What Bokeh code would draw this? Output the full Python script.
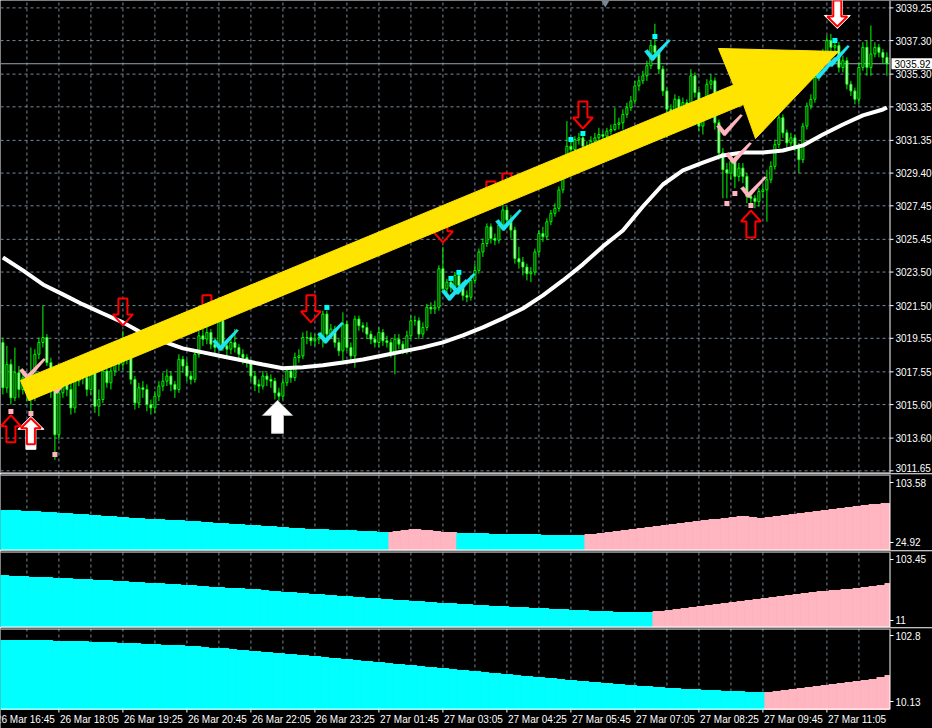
from bokeh.plotting import figure
from bokeh.layouts import column
from bokeh.models import Range1d
from bokeh.core.properties import value
from bokeh.embed import file_html
from bokeh.resources import INLINE

# ------------------------------------------------------------------ data
first_open = 3019.3
closes = [
    3016.6, 3018.0, 3016.0, 3017.5, 3016.5, 3017.2, 3016.5, 3016.0, 3018.6, 3019.3,
    3019.6, 3018.1, 3016.5, 3013.8, 3016.3, 3017.0, 3016.5, 3015.4, 3017.0, 3017.4,
    3017.2, 3016.5, 3017.6, 3015.5, 3015.9, 3017.6, 3016.9, 3017.6, 3018.4, 3018.0,
    3018.3, 3018.5, 3017.1, 3015.7, 3016.6, 3016.5, 3015.6, 3015.4, 3016.1, 3016.7,
    3017.0, 3017.3, 3016.8, 3016.5, 3018.3, 3017.9, 3017.3, 3017.1, 3018.6, 3019.7,
    3019.5, 3019.9, 3019.2, 3019.0, 3020.6, 3019.1, 3018.9, 3019.3, 3019.0, 3018.6,
    3018.4, 3018.1, 3017.3, 3016.8, 3016.7, 3017.3, 3017.1, 3017.0, 3016.3, 3016.1,
    3016.9, 3017.6, 3017.2, 3018.4, 3018.5, 3019.6, 3019.6, 3019.4, 3019.5, 3019.6,
    3021.0, 3019.8, 3020.1, 3019.3, 3018.8, 3020.4, 3019.0, 3018.5, 3020.7, 3020.3,
    3020.2, 3019.8, 3019.5, 3019.3, 3019.9, 3019.4, 3019.3, 3018.7, 3019.5, 3019.2,
    3018.9, 3019.7, 3020.6, 3020.6, 3019.8, 3020.2, 3021.4, 3021.3, 3021.4, 3023.7,
    3022.5, 3022.9, 3022.6, 3023.3, 3022.7, 3022.1, 3022.0, 3023.0, 3023.6, 3024.7,
    3025.2, 3026.2, 3025.5, 3025.4, 3026.3, 3027.2, 3026.6, 3026.0, 3024.3, 3024.1,
    3023.8, 3023.4, 3023.5, 3024.7, 3025.8, 3025.6, 3026.5, 3027.0, 3027.3, 3028.4,
    3029.3, 3031.0, 3030.8, 3031.4, 3031.5, 3031.0, 3030.8, 3031.3, 3031.5, 3031.7,
    3031.6, 3031.9, 3032.0, 3032.3, 3032.4, 3032.9, 3033.3, 3033.7, 3034.6, 3034.9,
    3035.2, 3035.8, 3037.0, 3036.6, 3035.6, 3034.3, 3033.2, 3033.1, 3033.8, 3033.2,
    3033.6, 3033.0, 3035.2, 3034.2, 3032.2, 3033.4, 3034.7, 3034.9, 3032.4, 3030.6,
    3029.6, 3029.4, 3030.1, 3029.2, 3029.7, 3029.2, 3028.0, 3027.9, 3027.7, 3028.3,
    3028.4, 3029.0, 3029.8, 3031.1, 3032.7, 3031.8, 3031.2, 3031.5, 3031.0, 3030.2,
    3032.2, 3033.4, 3033.8, 3035.1, 3035.9, 3036.5, 3037.3, 3036.9, 3037.0, 3035.7,
    3036.1, 3034.7, 3034.3, 3033.8, 3035.7, 3036.9, 3035.7, 3036.5, 3036.9, 3036.6,
    3036.3, 3035.92,
]
highs = [
    3019.6, 3019.1, 3018.3, 3019.0, 3017.9, 3017.6, 3017.5, 3019.0, 3018.9, 3019.6,
    3021.5, 3019.8, 3018.4, 3016.8, 3016.6, 3017.6, 3017.3, 3017.5, 3017.2, 3017.9,
    3017.7, 3017.4, 3018.0, 3017.8, 3016.5, 3017.9, 3018.0, 3017.9, 3018.7, 3018.6,
    3020.0, 3018.9, 3018.7, 3017.3, 3016.9, 3017.0, 3016.8, 3015.9, 3016.4, 3017.0,
    3017.5, 3017.7, 3017.6, 3017.0, 3018.6, 3018.5, 3018.3, 3017.6, 3018.8, 3020.0,
    3020.1, 3020.3, 3020.1, 3019.6, 3021.3, 3020.8, 3019.4, 3019.7, 3020.1, 3019.2,
    3018.9, 3018.6, 3018.3, 3017.6, 3017.1, 3017.6, 3017.5, 3017.4, 3017.2, 3016.6,
    3017.2, 3017.9, 3017.9, 3018.7, 3018.9, 3019.9, 3020.0, 3019.9, 3019.8, 3019.9,
    3021.2, 3021.2, 3020.4, 3020.3, 3019.5, 3021.1, 3020.6, 3019.3, 3020.9, 3020.9,
    3020.5, 3020.5, 3020.0, 3019.7, 3020.2, 3020.1, 3019.7, 3019.5, 3019.8, 3019.8,
    3019.4, 3020.0, 3020.9, 3020.9, 3020.8, 3020.5, 3021.6, 3021.7, 3021.8, 3023.9,
    3025.0, 3023.1, 3023.2, 3023.5, 3023.5, 3022.9, 3022.4, 3023.3, 3024.0, 3024.9,
    3025.5, 3026.4, 3026.4, 3025.8, 3026.6, 3027.8, 3027.4, 3026.9, 3026.2, 3025.0,
    3024.4, 3024.0, 3023.8, 3024.9, 3026.0, 3026.2, 3026.7, 3027.2, 3027.6, 3028.6,
    3029.5, 3032.5, 3031.3, 3031.6, 3031.8, 3031.6, 3031.3, 3031.6, 3031.8, 3032.1,
    3031.9, 3032.1, 3032.3, 3033.3, 3032.7, 3033.2, 3033.6, 3034.0, 3034.9, 3035.2,
    3035.5, 3036.1, 3037.3, 3038.3, 3036.8, 3035.8, 3034.5, 3033.5, 3034.1, 3034.0,
    3033.9, 3033.8, 3035.6, 3035.4, 3034.4, 3033.7, 3035.0, 3035.3, 3035.1, 3032.6,
    3030.9, 3030.0, 3030.5, 3030.4, 3030.0, 3030.0, 3029.4, 3028.2, 3028.1, 3028.5,
    3028.7, 3029.6, 3030.1, 3031.4, 3033.0, 3032.9, 3032.0, 3031.8, 3031.7, 3031.2,
    3032.4, 3033.6, 3034.1, 3035.4, 3036.2, 3036.8, 3037.6, 3037.7, 3037.3, 3037.2,
    3036.4, 3036.3, 3034.9, 3034.5, 3036.0, 3037.2, 3037.3, 3038.2, 3037.2, 3037.1,
    3036.8, 3036.6,
]
lows = [
    3016.2, 3016.3, 3015.6, 3015.8, 3016.0, 3016.2, 3015.8, 3015.2, 3015.8, 3018.3,
    3019.0, 3017.9, 3016.0, 3012.3, 3013.5, 3016.0, 3016.1, 3015.0, 3015.1, 3016.7,
    3016.8, 3016.1, 3016.2, 3015.1, 3014.9, 3015.7, 3016.6, 3016.5, 3017.3, 3017.6,
    3017.7, 3018.0, 3016.8, 3015.3, 3015.4, 3016.0, 3015.2, 3015.0, 3015.1, 3015.8,
    3016.4, 3016.7, 3016.4, 3016.0, 3016.3, 3017.5, 3017.0, 3016.8, 3016.9, 3018.4,
    3019.1, 3019.2, 3018.9, 3018.6, 3018.8, 3018.8, 3018.5, 3018.6, 3018.7, 3018.3,
    3018.0, 3017.8, 3017.0, 3016.4, 3016.3, 3016.5, 3016.7, 3016.6, 3015.9, 3015.8,
    3015.9, 3016.7, 3016.9, 3017.0, 3018.1, 3018.3, 3019.2, 3019.1, 3019.1, 3019.2,
    3019.0, 3019.5, 3019.5, 3019.0, 3018.5, 3018.0, 3018.8, 3018.2, 3017.8, 3020.0,
    3019.9, 3019.5, 3019.2, 3019.0, 3019.0, 3019.1, 3019.0, 3018.4, 3017.4, 3018.9,
    3018.6, 3018.6, 3019.5, 3020.3, 3019.5, 3019.6, 3020.0, 3021.0, 3021.0, 3021.2,
    3022.3, 3022.2, 3022.3, 3022.4, 3022.4, 3021.8, 3021.7, 3021.8, 3022.8, 3023.4,
    3024.4, 3025.0, 3025.2, 3025.1, 3025.2, 3026.1, 3026.3, 3025.5, 3024.0, 3023.7,
    3023.3, 3023.0, 3022.9, 3023.3, 3024.5, 3025.3, 3025.4, 3026.3, 3026.8, 3027.1,
    3028.2, 3029.1, 3030.4, 3030.5, 3031.1, 3030.3, 3030.5, 3030.5, 3031.0, 3031.3,
    3031.3, 3031.3, 3031.7, 3031.9, 3032.0, 3032.0, 3032.7, 3033.1, 3033.5, 3034.3,
    3034.7, 3034.9, 3035.6, 3036.3, 3035.3, 3034.0, 3031.5, 3032.8, 3032.8, 3032.9,
    3032.9, 3032.6, 3032.8, 3033.9, 3031.9, 3031.7, 3033.2, 3034.4, 3032.0, 3030.2,
    3027.9, 3027.9, 3029.0, 3028.5, 3028.9, 3028.8, 3027.6, 3027.6, 3027.3, 3027.4,
    3027.9, 3026.5, 3028.8, 3029.6, 3030.9, 3031.5, 3030.9, 3031.0, 3030.7, 3029.4,
    3030.0, 3032.0, 3033.2, 3033.6, 3034.9, 3035.6, 3036.2, 3036.6, 3036.6, 3035.4,
    3035.4, 3034.4, 3034.0, 3033.5, 3033.5, 3035.5, 3035.2, 3035.2, 3036.3, 3036.3,
    3035.9, 3035.2,
]

# moving average (sampled every 5 bars)
ma_bars = [0, 5, 10, 15, 20, 25, 30, 35, 40, 45, 50, 55, 60, 65, 70, 75, 80, 85, 90, 95,
           100, 105, 110, 115, 120, 125, 130, 135, 140, 145, 150, 155, 160, 165, 170, 175,
           180, 185, 190, 195, 200, 205, 210, 215, 220, 221]
ma_vals = [3024.37, 3023.60, 3022.76, 3022.17, 3021.57, 3021.03, 3020.50, 3019.84, 3019.37,
           3018.95, 3018.71, 3018.47, 3018.23, 3017.99, 3017.76, 3017.82, 3017.94, 3018.11,
           3018.29, 3018.53, 3018.77, 3019.01, 3019.31, 3019.72, 3020.20, 3020.74, 3021.33,
           3022.11, 3023.00, 3023.96, 3025.03, 3025.98, 3027.41, 3028.72, 3029.56, 3030.03,
           3030.45, 3030.63, 3030.63, 3030.75, 3031.05, 3031.70, 3032.30, 3032.84, 3033.19,
           3033.31]

bid_price = 3035.92
bid_text = "3035.92"

price_ticks = [3039.25, 3037.30, 3035.30, 3033.35, 3031.35, 3029.40, 3027.45, 3025.45,
               3023.50, 3021.50, 3019.55, 3017.55, 3015.60, 3013.60, 3011.65]
price_labels = ["3039.25", "3037.30", "3035.30", "3033.35", "3031.35", "3029.40", "3027.45",
                "3025.45", "3023.50", "3021.50", "3019.55", "3017.55", "3015.60", "3013.60",
                "3011.65"]

time_ticks = [-2, 14, 30, 46, 62, 78, 94, 110, 126, 142, 158, 174, 190, 206]
time_labels = ["26 Mar 16:45", "26 Mar 18:05", "26 Mar 19:25", "26 Mar 20:45", "26 Mar 22:05",
               "26 Mar 23:25", "27 Mar 01:45", "27 Mar 03:05", "27 Mar 04:25", "27 Mar 05:45",
               "27 Mar 07:05", "27 Mar 08:25", "27 Mar 09:45", "27 Mar 11:05"]
grid_bars = [6, 14, 22, 30, 38, 46, 54, 62, 70, 78, 86, 94, 102, 110, 118, 126, 134, 142,
             150, 158, 166, 174, 182, 190, 198, 206, 214]

# signals
dn_x = [30, 51, 77, 110, 122, 126, 145]
dn_y = [3020.32, 3020.50, 3020.50, 3025.27, 3027.29, 3027.77, 3032.06]
up_x = [2, 187]
up_y = [3014.96, 3027.17]
combo_up_x = [7]
combo_up_y = [3014.90]
combo_dn_x = [208.6]
combo_dn_y = [3038.02]
white_up_x = [68.65]
white_up_y = [3015.85]

check_cyan_x = [54.4, 80.65, 111.65, 113.65, 125.15, 162.4, 203.9, 207.15]
check_cyan_y = [3018.89, 3019.31, 3021.87, 3022.23, 3026.04, 3036.17, 3035.10, 3035.82]
check_pink_x = [6.15, 13.4, 180.4, 182.65, 186.4]
check_pink_y = [3017.16, 3016.33, 3031.70, 3030.03, 3028.01]

sq_cyan_x = [81, 112, 114, 142, 145, 163, 204, 208]
sq_cyan_y = [3021.39, 3023.12, 3023.48, 3031.41, 3031.76, 3037.54, 3036.53, 3037.30]
sq_pink_x = [2, 7, 13, 181, 183, 187]
sq_pink_y = [3015.19, 3015.07, 3012.63, 3027.59, 3028.19, 3027.47]

trend_x = [6.5, 4.4, 182.65, 178.9, 208.9, 188.15, 185.15]
trend_y = [3015.83, 3017.04, 3034.65, 3036.83, 3036.65, 3031.46, 3033.49]

shift_marker_x = [150.6]

# indicator panels (stepped histograms)
p1_starts = [0, 5, 10, 14, 18, 22, 25, 29, 32, 36, 41, 46, 50, 53, 57, 61, 65, 69, 72, 76, 82, 89, 94,
             97, 98, 100, 102, 105, 108, 110,
             114, 122, 135,
             146, 149, 151, 153, 155, 157, 159, 161, 163, 165, 167, 169, 171, 173, 175, 177, 180,
             182, 184, 187, 189, 191, 193, 195, 197, 199, 201, 203, 205, 207, 209, 211, 213, 215,
             217, 220]
p1_vals = [66.9, 65.6, 64.3, 62.9, 61.6, 60.3, 59.0, 57.7, 56.4, 55.1, 53.8, 52.5, 51.1, 49.8,
           48.5, 47.2, 45.9, 44.6, 43.3, 42.0, 40.7, 39.3, 38.0,
           38.0, 39.3, 40.7, 42.0, 40.7, 39.3, 38.0,
           36.7, 35.4, 34.1,
           35.4, 36.7, 38.0, 39.3, 40.7, 42.0, 43.3, 44.6, 45.9, 47.2, 48.5, 49.8, 51.1, 52.5,
           53.8, 55.1, 56.4, 57.7, 59.0, 57.7, 56.4, 57.7, 59.0, 60.3, 61.6, 62.9, 64.3, 65.6,
           66.9, 68.2, 69.5, 70.8, 72.1, 73.4, 74.7, 76.1]
p1_phase_starts = [0, 97, 114, 146]
p1_phase_colors = ["cyan", "pink", "cyan", "pink"]
p1_ticks = [103.58, 24.92]
p1_labels = ["103.58", "24.92"]

p2_starts = [0, 2, 7, 13, 18, 23, 28, 32, 36, 41, 45, 49, 52, 56, 61, 65, 67, 70, 74, 77, 81, 84,
             88, 91, 95, 98, 102, 106, 109, 114, 118, 122, 127, 132, 137, 142, 147, 153,
             163, 166, 168, 170, 172, 174, 176, 178, 180, 182, 184, 186, 188, 190, 192, 194, 196,
             198, 200, 202, 204, 207, 210, 213, 215, 217, 219, 221]
p2_vals = [79.2, 77.7, 76.2, 74.6, 73.1, 71.6, 70.1, 68.6, 67.1, 65.6, 64.0, 62.5, 61.0, 59.5,
           58.0, 56.5, 54.9, 53.4, 51.9, 50.4, 48.9, 47.4, 45.9, 44.3, 42.8, 41.3, 39.8, 38.3,
           36.8, 35.2, 33.7, 32.2, 30.7, 29.2, 27.7, 26.1, 24.6, 23.1,
           24.6, 26.1, 27.7, 29.2, 30.7, 32.2, 33.7, 35.2, 36.8, 38.3, 39.8, 41.3, 42.8, 44.3,
           45.9, 47.4, 48.9, 50.4, 51.9, 53.4, 54.9, 56.5, 58.0, 59.5, 61.0, 62.5, 64.0, 67.1]
p2_phase_starts = [0, 163]
p2_phase_colors = ["cyan", "pink"]
p2_ticks = [103.45, 11]
p2_labels = ["103.45", "11"]

p3_starts = [0, 13, 22, 29, 35, 40, 46, 50, 52, 57, 59, 62, 65, 68, 71, 74, 77, 80, 82, 85, 88,
             90, 93, 96, 98, 101, 104, 106, 109, 112, 114, 117, 120, 122, 125, 128, 130, 133,
             136, 139, 141, 144, 147, 150, 153, 156, 159, 163, 166, 170, 175, 180, 186,
             191, 193, 195, 197, 199, 201, 203, 205, 207, 209, 211, 213, 215, 217, 219, 221]
p3_vals = [95.8, 94.4, 93.0, 91.6, 90.2, 88.8, 87.4, 86.0, 84.6, 83.1, 81.7, 80.3, 78.9, 77.5,
           76.1, 74.7, 73.3, 71.9, 70.5, 69.1, 67.7, 66.3, 64.9, 63.5, 62.1, 60.7, 59.3, 57.9,
           56.5, 55.1, 53.7, 52.3, 50.9, 49.5, 48.0, 46.6, 45.2, 43.8, 42.4, 41.0, 39.6, 38.2,
           36.8, 35.4, 34.0, 32.6, 31.2, 29.8, 28.4, 27.0, 25.6, 24.2, 22.8,
           22.8, 24.2, 25.6, 27.0, 28.4, 29.8, 31.2, 32.6, 34.0, 35.4, 36.8, 38.2, 39.6, 41.0,
           43.8, 46.6]
p3_phase_starts = [0, 191]
p3_phase_colors = ["cyan", "pink"]
p3_ticks = [102.8, 10.13]
p3_labels = ["102.8", "10.13"]

# ------------------------------------------------------------------ style / layout
FONT = "Liberation Sans"
FSIZE = "10px"
BG = "#000000"
GRID = "#778899"
LIME = "#00FF00"
COLORS = {"cyan": "#00FFFF", "pink": "#FFB6C1"}
RED = "#FF0000"
YELLOW = "#FFE400"

W = 889            # plotting area width (px)
W_TOTAL = 932      # including price scale
X0, X1 = -0.6, 221.65
SX = W / (X1 - X0)             # px per bar
XR = X0 + W_TOTAL / SX
H_MAIN, Y0, Y1 = 473, 3011.49, 3039.69
P1 = (76, 14.43, 114.07, 0)
P2 = (76, 0.39, 115.57, 0)
P3 = (81, -1.10, 112.63, 19)    # last: extra px for time scale

x_rng = Range1d(X0, XR)


def make_fig(h, y0, y1, top):
    p = figure(frame_width=W_TOTAL, frame_height=h, x_range=x_rng, y_range=Range1d(y0, y1),
               tools="", toolbar_location=None, output_backend="svg",
               x_axis_location=None, y_axis_location=None,
               background_fill_color=BG, border_fill_color=BG, outline_line_color=None,
               min_border_left=0, min_border_right=0, min_border_top=top, min_border_bottom=0)
    p.grid.visible = False
    return p


def vgrid(p, ya, yb):
    n = len(grid_bars)
    p.segment(x0=grid_bars, y0=[ya] * n, x1=grid_bars, y1=[yb] * n,
              line_color=GRID, line_width=1, line_dash="3 3")


def price_scale(p, ya, yb, ticks, labels, label_y=None):
    xl = X1 + 0.5 / SX
    p.segment(x0=[xl], y0=[ya], x1=[xl], y1=[yb], line_color="white", line_width=1)
    n = len(ticks)
    p.segment(x0=[xl] * n, y0=ticks, x1=[X1 + 4 / SX] * n, y1=ticks,
              line_color="white", line_width=1)
    p.text(x=[X1] * n, y=label_y if label_y else ticks, text=labels, x_offset=6,
           text_align="left", text_baseline="middle", text_color="white",
           text_font=value(FONT), text_font_size=value(FSIZE))


def frame_lines(p, ya, yb, upp, top=True, bottom=True):
    if top:
        p.line([X0, X1], [yb - 0.5 * upp] * 2, line_color="white", line_width=1)
    if bottom:
        p.line([X0, X1], [ya + 0.5 * upp] * 2, line_color="white", line_width=1)


def shapes(xs, ys, template, sy):
    outx, outy = [], []
    for ax_, ay_ in zip(xs, ys):
        outx.append([ax_ + dx / SX for dx, dy in template])
        outy.append([ay_ + dy / sy for dx, dy in template])
    return outx, outy


# ------------------------------------------------------------------ main chart
pm = make_fig(H_MAIN, Y0, Y1, 0)
SY = H_MAIN / (Y1 - Y0)
UPP = 1 / SY

vgrid(pm, Y0, Y1)
npt = len(price_ticks)
pm.segment(x0=[X0] * npt, y0=price_ticks, x1=[X1] * npt, y1=price_ticks,
           line_color=GRID, line_width=1, line_dash="3 3")
pm.line([X0, X1], [bid_price, bid_price], line_color="#9aa4ae", line_width=1)

bars = list(range(len(closes)))
opens = [first_open] + closes[:-1]
tops = [max(o, c) for o, c in zip(opens, closes)]
bots = [min(o, c) for o, c in zip(opens, closes)]
body_colors = ["white" if c < o else "black" for o, c in zip(opens, closes)]

pm.segment(x0=bars, y0=lows, x1=bars, y1=highs, line_color=LIME, line_width=1)
pm.vbar(x=bars, width=0.5, top=tops, bottom=bots, fill_color=body_colors,
        line_color=LIME, line_width=1)

pm.line(ma_bars, ma_vals, line_color="white", line_width=4)

# templates in screen pixels (y up), relative to anchor
ARROW_DN = [(0, 0), (10, 11), (4.5, 11), (4.5, 27), (-4.5, 27), (-4.5, 11), (-10, 11)]
ARROW_UP = [(dx, -dy) for dx, dy in ARROW_DN]
BACK_UP = [(0, 0), (13, -13), (5, -13), (5, -33), (-5, -33), (-5, -13), (-13, -13)]
BACK_DN = [(dx, -dy) for dx, dy in BACK_UP]
RED_IN_UP = [(0, -2), (10, -12), (4, -12), (4, -28), (-4, -28), (-4, -12), (-10, -12)]
RED_IN_DN = [(dx, -dy) for dx, dy in RED_IN_UP]
BIG_UP = [(0, 0), (15, -15), (6, -15), (6, -33), (-6, -33), (-6, -15), (-15, -15)]
CHECK = [(-8, 8), (-5, 10), (0, 4), (16, 20), (18, 19), (1, -1), (-1, -1)]

xs, ys = shapes(check_cyan_x, check_cyan_y, CHECK, SY)
pm.patches(xs, ys, fill_color="#1EE3F0", line_color="#1EE3F0", line_width=0.5)
xs, ys = shapes(check_pink_x, check_pink_y, CHECK, SY)
pm.patches(xs, ys, fill_color=COLORS["pink"], line_color=COLORS["pink"], line_width=0.5)
pm.scatter(sq_cyan_x, sq_cyan_y, marker="square", size=5, fill_color=COLORS["cyan"], line_color=None)
pm.scatter(sq_pink_x, sq_pink_y, marker="square", size=5, fill_color=COLORS["pink"], line_color=None)

xs, ys = shapes(white_up_x, white_up_y, BIG_UP, SY)
pm.patches(xs, ys, fill_color="white", line_color="#bbbbbb", line_width=1)
xs, ys = shapes(combo_up_x, combo_up_y, BACK_UP, SY)
pm.patches(xs, ys, fill_color="white", line_color="white", line_width=1)
xs, ys = shapes(combo_dn_x, combo_dn_y, BACK_DN, SY)
pm.patches(xs, ys, fill_color="white", line_color="white", line_width=1)
xs, ys = shapes(combo_up_x, combo_up_y, RED_IN_UP, SY)
pm.patches(xs, ys, fill_alpha=0, line_color=RED, line_width=2)
xs, ys = shapes(combo_dn_x, combo_dn_y, RED_IN_DN, SY)
pm.patches(xs, ys, fill_alpha=0, line_color=RED, line_width=2)
xs, ys = shapes(dn_x, dn_y, ARROW_DN, SY)
pm.patches(xs, ys, fill_alpha=0, line_color=RED, line_width=2)
xs, ys = shapes(up_x, up_y, ARROW_UP, SY)
pm.patches(xs, ys, fill_alpha=0, line_color=RED, line_width=2)

pm.patch(trend_x, trend_y, fill_color=YELLOW, line_color=YELLOW, line_width=1)

pm.scatter(shift_marker_x, [Y1 - 2.5 * UPP], marker="inverted_triangle", size=8,
           fill_color=GRID, line_color=None)

frame_lines(pm, Y0, Y1, UPP, top=False, bottom=True)
# keep the lowest price label inside the chart window
label_y = list(price_ticks)
label_y[-1] = max(label_y[-1], Y0 + 6 * UPP)
price_scale(pm, Y0, Y1, price_ticks, price_labels, label_y)

# current bid box on the price scale
pm.rect(x=[X1 + 23 / SX], y=[bid_price], width=42, height=11, width_units="screen",
        height_units="screen", fill_color="white", line_color=None)
pm.text(x=[X1], y=[bid_price], text=[bid_text], x_offset=5, text_align="left",
        text_baseline="middle", text_color="black", text_font=value(FONT),
        text_font_size=value(FSIZE))


# ------------------------------------------------------------------ indicator panels
def panel(spec, starts, vals, phase_starts, phase_colors, ticks, labels):
    h, y0, y1, extra = spec
    upp = (y1 - y0) / h
    ybottom = y0 - extra * upp
    p = make_fig(h + extra, ybottom, y1, 1)
    vgrid(p, y0, y1)
    lefts, rights, cols = [], [], []
    for k, s in enumerate(starts):
        lefts.append(X0 if k == 0 else s - 0.5)
        rights.append(starts[k + 1] - 0.5 if k + 1 < len(starts) else X1)
        c = COLORS[phase_colors[0]]
        for ps, pc in zip(phase_starts, phase_colors):
            if s >= ps:
                c = COLORS[pc]
        cols.append(c)
    p.quad(left=lefts, right=rights, bottom=y0, top=vals, fill_color=cols,
           line_color=cols, line_width=1)
    frame_lines(p, y0, y1, upp)
    price_scale(p, y0, y1, ticks, labels)
    return p, upp


pp1, _ = panel(P1, p1_starts, p1_vals, p1_phase_starts, p1_phase_colors, p1_ticks, p1_labels)
pp2, _ = panel(P2, p2_starts, p2_vals, p2_phase_starts, p2_phase_colors, p2_ticks, p2_labels)
pp3, upp3 = panel(P3, p3_starts, p3_vals, p3_phase_starts, p3_phase_colors, p3_ticks, p3_labels)

# time scale below the last panel
y0p3 = P3[1]
nt = len(time_ticks)
pp3.segment(x0=time_ticks, y0=[y0p3] * nt, x1=time_ticks, y1=[y0p3 - 3 * upp3] * nt,
            line_color="white", line_width=1)
pp3.text(x=time_ticks, y=[y0p3 - 4 * upp3] * nt, text=time_labels, x_offset=1,
         text_align="left", text_baseline="top", text_color="white",
         text_font=value(FONT), text_font_size=value(FSIZE))

layout = column(pm, pp1, pp2, pp3)
open("out.html", "w").write(file_html(layout, INLINE))
